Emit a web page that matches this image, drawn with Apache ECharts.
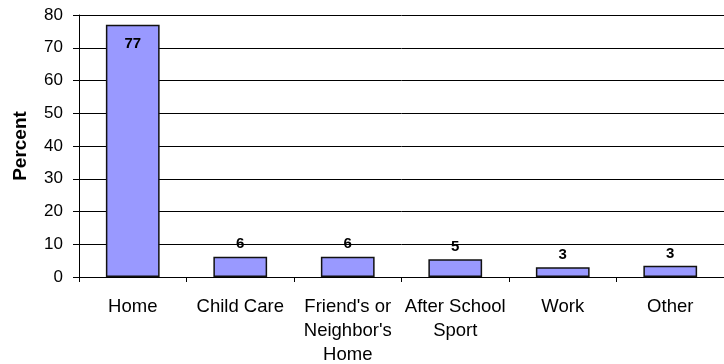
<!DOCTYPE html>
<html>
<head>
<meta charset="utf-8">
<script src="https://cdn.jsdelivr.net/npm/echarts@6/dist/echarts.min.js"></script>
<style>
  html, body { margin: 0; padding: 0; background: #fff; }
  #main { width: 724px; height: 364px; }
</style>
</head>
<body>
<div id="main"></div>
<script>
var categories = ['Home', 'Child Care', "Friend's or\nNeighbor's\nHome", 'After School\nSport', 'Work', 'Other'];
var percents = [77, 6.2, 6.2, 5.4, 3, 3.4];
var yTicks = [0, 10, 20, 30, 40, 50, 60, 70, 80];

var chart = echarts.init(document.getElementById('main'));

var font = 'Liberation Sans, Arial, sans-serif';

var option = {
  animation: false,
  grid: { left: 79, right: 0, top: 15, bottom: 87, outerBoundsMode: 'none', containLabel: false },
  xAxis: {
    type: 'category',
    data: categories,
    axisLine: { lineStyle: { color: '#000', width: 1 } },
    axisTick: { show: true, length: 5, lineStyle: { color: '#000' } },
    axisLabel: {
      interval: 0,
      color: '#000',
      fontFamily: font,
      fontSize: 18.5,
      lineHeight: 24,
      margin: 18
    }
  },
  yAxis: {
    type: 'value',
    min: yTicks[0],
    max: yTicks[yTicks.length - 1],
    interval: 10,
    name: 'Percent',
    nameLocation: 'middle',
    nameGap: 49,
    nameTextStyle: { fontFamily: font, fontSize: 19, fontWeight: 'bold', color: '#000' },
    axisLine: { show: true, lineStyle: { color: '#000', width: 1 } },
    axisTick: { show: true, length: 6, lineStyle: { color: '#000' } },
    axisLabel: { color: '#000', fontFamily: font, fontSize: 17, margin: 16 },
    splitLine: { show: true, lineStyle: { color: '#000', width: 1 } }
  },
  series: [{
    type: 'bar',
    data: percents.map(function (v, i) {
      return {
        value: v,
        label: i === 0 ? { position: 'insideTop', distance: 12 } : { position: 'top', distance: 5 }
      };
    }),
    barWidth: '50%',
    itemStyle: { color: '#9999FF', borderColor: '#111', borderWidth: 1.5 },
    label: {
      show: true,
      color: '#000',
      fontFamily: font,
      fontSize: 15,
      fontWeight: 'bold',
      formatter: function (p) { return Math.round(p.value); }
    }
  }]
};

chart.setOption(option);
</script>
</body>
</html>
